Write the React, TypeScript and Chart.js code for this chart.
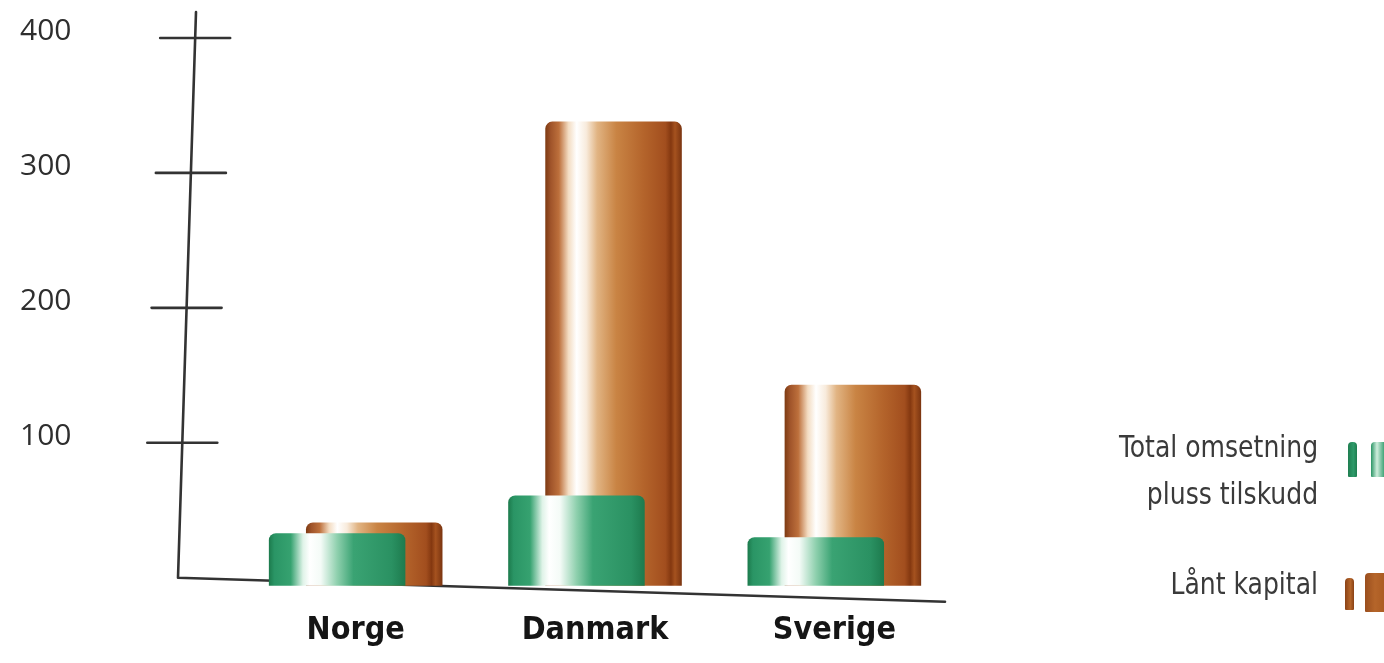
import React, { useEffect, useRef } from 'react';
import { Chart, registerables } from 'chart.js';

Chart.register(...registerables);

// ---- data ----
const categories = ['Norge', 'Danmark', 'Sverige'];
const totalOmsetningPlussTilskudd = [33, 61, 30];
const lantKapital = [41, 338, 143];
const yTickValues = [100, 200, 300, 400];
const seriesLabels = ['Total omsetning pluss tilskudd', 'Lånt kapital'];
const legendLines = [['Total omsetning', 'pluss tilskudd'], ['Lånt kapital']];

// ---- styles ----
const Y_MIN = -15;
const Y_MAX = 417;
const BAR_BASE = -6;
const AXIS_BOTTOM_X = 178;
const AXIS_TOP_X = 196;
const X_AXIS_END_X = 945;
const X_AXIS_DROP = 24;

const greenStops: [number, string][] = [
  [0, '#1c7a4c'], [0.04, '#2a9565'], [0.16, '#36a270'], [0.25, '#dff3e8'],
  [0.3, '#ffffff'], [0.38, '#f4fbf7'], [0.5, '#8fd0ae'], [0.62, '#3aa373'],
  [0.9, '#2a9162'], [1, '#1d7a4d'],
];
const brownStops: [number, string][] = [
  [0, '#7d3a12'], [0.04, '#a0542a'], [0.1, '#bd703c'], [0.17, '#f3dcc2'],
  [0.23, '#ffffff'], [0.3, '#f8ebdc'], [0.38, '#e1b483'], [0.52, '#c98444'],
  [0.72, '#b4642b'], [0.88, '#a24e1e'], [0.92, '#843810'], [0.95, '#a5521f'], [1, '#7a3410'],
];
const seriesStops = [greenStops, brownStops];

const cylinderPlugin = {
  id: 'cylinder',
  beforeDatasetsDraw(chart: any) {
    const ctx = chart.ctx;
    chart.data.datasets.forEach((_ds: any, di: number) => {
      const meta = chart.getDatasetMeta(di);
      meta.data.forEach((el: any) => {
        const { x, width } = el.getProps(['x', 'width'], true);
        const g = ctx.createLinearGradient(x - width / 2, 0, x + width / 2, 0);
        seriesStops[di].forEach(([o, c]) => g.addColorStop(o, c));
        el.options = Object.assign({}, el.options, { backgroundColor: g });
      });
    });
  },
};

const axesPlugin = {
  id: 'handAxes',
  beforeDatasetsDraw(chart: any) {
    const { ctx, chartArea } = chart;
    const y = chart.scales.y;
    const zero = y.getPixelForValue(0);
    const topY = chartArea.top - 3;
    const axisX = (py: number) =>
      AXIS_BOTTOM_X + ((AXIS_TOP_X - AXIS_BOTTOM_X) * (zero - py)) / (zero - topY);
    ctx.save();
    ctx.strokeStyle = '#333333';
    ctx.lineWidth = 2.6;
    ctx.lineCap = 'round';
    ctx.lineJoin = 'round';
    ctx.beginPath();
    ctx.moveTo(axisX(topY), topY);
    ctx.lineTo(AXIS_BOTTOM_X, zero);
    ctx.lineTo(X_AXIS_END_X, zero + X_AXIS_DROP);
    ctx.stroke();
    yTickValues.forEach((v) => {
      const py = y.getPixelForValue(v);
      const ax = axisX(py);
      ctx.beginPath();
      ctx.moveTo(ax - 35, py);
      ctx.lineTo(ax + 35, py);
      ctx.stroke();
    });
    ctx.restore();
  },
};

export default function App() {
  const canvasRef = useRef<HTMLCanvasElement | null>(null);

  useEffect(() => {
    if (!canvasRef.current) return;
    const chart = new Chart(canvasRef.current, {
      type: 'bar',
      data: {
        labels: categories,
        datasets: [
          {
            label: seriesLabels[0],
            data: totalOmsetningPlussTilskudd,
            backgroundColor: '#2e9a6a',
            base: BAR_BASE,
          } as any,
          {
            label: seriesLabels[1],
            data: lantKapital,
            backgroundColor: '#b5652a',
            base: BAR_BASE,
          } as any,
        ],
      },
      options: {
        responsive: false,
        animation: false,
        events: [],
        layout: { padding: { left: 20, right: 430, top: 15, bottom: 0 } },
        datasets: {
          bar: {
            barPercentage: 3.68,
            categoryPercentage: 0.31,
            borderRadius: { topLeft: 7, topRight: 7, bottomLeft: 0, bottomRight: 0 },
            borderSkipped: false,
            borderWidth: 0,
          },
        } as any,
        plugins: {
          legend: { display: false },
          tooltip: { enabled: false },
        },
        scales: {
          x: {
            grid: { display: false, drawTicks: false },
            border: { display: false },
            ticks: {
              color: '#151515',
              padding: 13,
              font: { family: '"DejaVu Sans Condensed", sans-serif', size: 32, weight: 'bold' },
            },
            afterFit: (scale: any) => {
              scale.height = 65;
              scale.paddingLeft = 0;
              scale.paddingRight = 0;
            },
          },
          y: {
            min: Y_MIN,
            max: Y_MAX,
            grid: { display: false, drawTicks: false },
            border: { display: false },
            afterBuildTicks: (scale: any) => {
              scale.ticks = yTickValues.map((v) => ({ value: v }));
            },
            ticks: {
              color: '#2e2e2e',
              crossAlign: 'far',
              labelOffset: -6,
              font: { family: '"Open Sans", sans-serif', size: 30 },
            },
            afterFit: (scale: any) => {
              scale.width = 216;
              scale.paddingTop = 0;
              scale.paddingBottom = 0;
            },
          },
        },
      },
      plugins: [axesPlugin, cylinderPlugin],
    });
    return () => chart.destroy();
  }, []);

  const legendText: React.CSSProperties = {
    position: 'absolute',
    right: 1384 - 1318,
    textAlign: 'right',
    fontFamily: '"DejaVu Sans Condensed", sans-serif',
    fontSize: 31,
    lineHeight: '47px',
    color: '#3a3a3a',
    whiteSpace: 'nowrap',
    transform: 'scaleX(0.9)',
    transformOrigin: 'right center',
  };
  const piece = (left: number, top: number, w: number, h: number, bg: string): React.CSSProperties => ({
    position: 'absolute', left, top, width: w, height: h, background: bg, borderRadius: '4px 4px 1px 1px',
  });
  const greenBg = 'linear-gradient(90deg, #1f7e50, #2e9a6a 60%, #1f7e50)';
  const greenBg2 = 'linear-gradient(90deg, #2a9565, #cfeedd 30%, #2e9a6a 70%)';
  const brownBg = 'linear-gradient(90deg, #8a4216, #b5652a 60%, #8a4216)';
  const brownBg2 = 'linear-gradient(90deg, #9a4e1e, #b5652a 40%, #a5561f)';

  return (
    <div style={{ position: 'fixed', left: 0, top: 0, width: 1384, height: 663, background: '#ffffff', overflow: 'hidden' }}>
      <canvas ref={canvasRef} width={1384} height={663} style={{ position: 'absolute', left: 0, top: 0, width: 1384, height: 663 }} />
      <div style={{ ...legendText, top: 423 }}>
        {legendLines[0].map((l) => (<div key={l}>{l}</div>))}
      </div>
      <div style={{ ...legendText, top: 560 }}>
        {legendLines[1].map((l) => (<div key={l}>{l}</div>))}
      </div>
      <div style={piece(1348, 442, 9, 35, greenBg)} />
      <div style={piece(1371, 442, 20, 35, greenBg2)} />
      <div style={piece(1345, 578, 9, 32, brownBg)} />
      <div style={piece(1365, 573, 25, 39, brownBg2)} />
    </div>
  );
}
